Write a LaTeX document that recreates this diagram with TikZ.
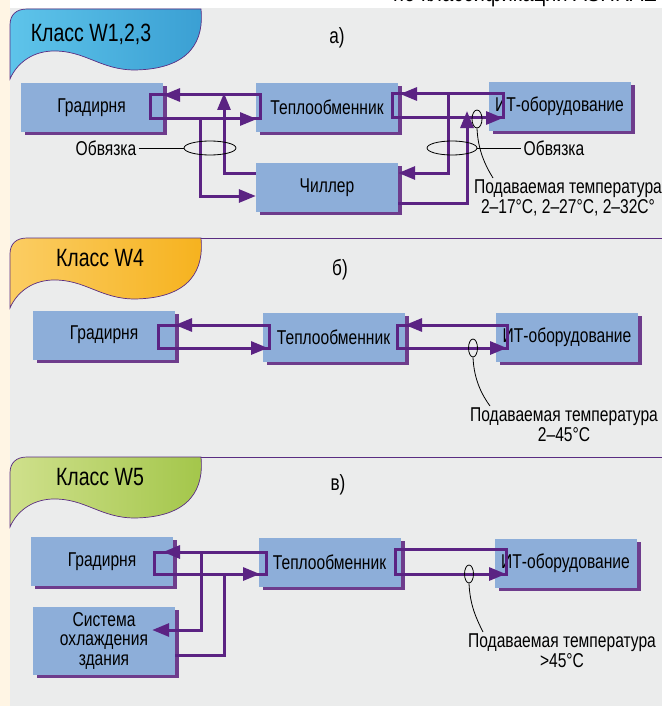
\documentclass[tikz,border=0pt]{standalone}
\usepackage{fontspec}
\setmainfont{Liberation Sans}[FakeStretch=0.78]
\usepackage{xcolor}
\definecolor{panelgray}{HTML}{EBECEC}
\definecolor{creamstrip}{HTML}{FFF5E4}
\definecolor{unitblue}{HTML}{8DAED9}
\definecolor{unitshadow}{HTML}{6E3C8C}
\definecolor{pipepurple}{HTML}{5B2383}
\definecolor{tabline}{HTML}{5A2D82}
\definecolor{tabblueL}{HTML}{5EC4EA}
\definecolor{tabblueR}{HTML}{3A9FD3}
\definecolor{taborangeL}{HTML}{FBCD63}
\definecolor{taborangeR}{HTML}{F6B21E}
\definecolor{tabgreenL}{HTML}{CFE08C}
\definecolor{tabgreenR}{HTML}{A3C64A}
\usetikzlibrary{shapes.geometric,arrows.meta,positioning,shadows}

\begin{document}
\begin{tikzpicture}[x=1pt, y=-1pt,
    unit/.style={fill=unitblue, align=center, font=\fontsize{20}{19.5}\selectfont, minimum width=142pt, minimum height=49pt, inner sep=0pt,
      drop shadow={shadow xshift=4pt, shadow yshift=-3pt, fill=unitshadow, opacity=1}},
    pipe/.style={draw=pipepurple, line width=3pt},
    flow/.style={pipe, -{Triangle[length=17pt, width=13pt]}},
    ring/.style={draw, ellipse, line width=0.8pt, inner sep=0pt},
    note/.style={align=center, inner sep=2pt, font=\fontsize{20}{20}\selectfont},
    lead/.style={line width=0.8pt},
    tab/.style={draw=tabline, line width=0.7pt},
    caption/.style={font=\fontsize{22}{22}\selectfont}
  ]
  \useasboundingbox (0,0) rectangle (662,706);
  % background
  \fill[creamstrip] (0,0) rectangle (10,706);
  \fill[white] (10,0) rectangle (662,8.5);
  \fill[panelgray] (10,8.5) rectangle (662,706);
  \node[anchor=base east, inner sep=0pt, font=\fontsize{26}{26}\selectfont] (hdr) at (657,2) {по классификации ASHRAE};

  % class tabs
  \foreach \ty/\lc/\rc/\tx/\ts/\txt in {9/tabblueL/tabblueR/91/25/{Класс W1,2,3},
      238/taborangeL/taborangeR/100/20/{Класс W4}, 457/tabgreenL/tabgreenR/100/20/{Класс W5}} {
    \shade[tab, left color=\lc, right color=\rc] (10,\ty+70) -- (10,\ty+16)
      .. controls (10,\ty+6) and (16,\ty) .. (27,\ty) -- (201,\ty)
      .. controls (204,\ty+30) and (192,\ty+60) .. (135,\ty+61)
      .. controls (100,\ty+61) and (85,\ty+41) .. (52,\ty+42)
      .. controls (30,\ty+43) and (16,\ty+56) .. (10,\ty+70) -- cycle;
    \node[font=\fontsize{25}{25}\selectfont] (tab\ty) at (\tx,\ty+\ts) {\txt};
  }
  \draw[tab] (201,238) -- (662,238);
  \draw[tab] (201,457) -- (662,457);

  % a) W1,2,3
  \node[caption] (capa) at (337,38) {а)};
  \node[unit] (grad1) at (91.5,107.5) {Градирня};
  \node[unit] (heat1) at (327,107.5) {Теплообменник};
  \node[unit] (it1) at (559.5,106.5) {ИТ-оборудование};
  \node[unit] (chil1) at (327,187.5) {Чиллер};

  \draw[pipe] (150,95) rectangle (260,119);
  \draw[flow] (200,95) -- (163,95);
  \draw[flow] (225,119) -- (257,119);
  \draw[flow] (200,119) |- ([yshift=-8.5pt]chil1.west);
  \draw[flow] ([yshift=14.5pt]chil1.west) -| (224,93);
  \draw[pipe] (392,94) rectangle (503,118);
  \draw[flow] (435,94) -- (400,94);
  \draw[flow] (470,118) -- (503,118);
  \draw[flow] (448,94) |- ([yshift=14.5pt]chil1.east);
  \draw[flow] ([yshift=-15.5pt]chil1.east) -| (467,111);

  \node[ring, minimum width=52pt, minimum height=14pt] (tie1) at (210,148) {};
  \node[ring, minimum width=50pt, minimum height=14pt] (tie2) at (452,148) {};
  \node[ring, minimum width=10pt, minimum height=18pt] (probe1) at (477,119) {};
  \node[note] (obv1) at (106,148) {Обвязка};
  \node[note] (obv2) at (554,148) {Обвязка};
  \draw[lead] (obv1) -- (tie1);
  \draw[lead] (tie2) -- (obv2);
  \node[note, anchor=north] (temp1) at (568,178) {Подаваемая температура\\2–17°C, 2–27°C, 2–32C°};
  \draw[lead] (probe1.south) .. controls (478,150) and (485,165) .. ([xshift=-75pt]temp1.north);

  % b) W4
  \node[caption] (capb) at (340,270) {б)};
  \node[unit] (grad2) at (104,335) {Градирня};
  \node[unit] (heat2) at (333.5,337.5) {Теплообменник};
  \node[unit] (it2) at (567,337.5) {ИТ-оборудование};

  \draw[pipe] (158,325) rectangle (269,348);
  \draw[flow] (215,325) -- (175,325);
  \draw[flow] (230,348) -- (268,348);
  \draw[pipe] (397,325) rectangle (507,348);
  \draw[flow] (440,325) -- (405,325);
  \draw[flow] (470,348) -- (507,348);

  \node[ring, minimum width=9pt, minimum height=18pt] (probe2) at (473,348) {};
  \node[note, anchor=north] (temp2) at (564,406) {Подаваемая температура\\2–45°C};
  \draw[lead] (probe2.south) .. controls (474,380) and (482,395) .. ([xshift=-74pt]temp2.north);

  % c) W5
  \node[caption] (capc) at (338,485) {в)};
  \node[unit] (grad3) at (102,561.5) {Градирня};
  \node[unit, minimum height=68pt] (bldg3) at (104,641) {Система\\охлаждения\\здания};
  \node[unit] (heat3) at (329.5,562.5) {Теплообменник};
  \node[unit] (it3) at (565.5,563) {ИТ-оборудование};

  \draw[pipe] (154,552) rectangle (266,574);
  \draw[flow] (200,552) -- (163,552);
  \draw[flow] (225,574) -- (260,574);
  \draw[flow] (201,552) |- ([xshift=-23pt, yshift=11pt]bldg3.east);
  \draw[pipe] (224,574) |- ([yshift=-14pt]bldg3.east);
  \draw[pipe] (395,549) rectangle (506,574);
  \draw[flow] (470,574) -- (506,574);

  \node[ring, minimum width=9pt, minimum height=18pt] (probe3) at (469,574) {};
  \node[note, anchor=north] (temp3) at (562,632) {Подаваемая температура\\>45°C};
  \draw[lead] (probe3.south) .. controls (470,605) and (476,618) .. ([xshift=-79pt]temp3.north);
\end{tikzpicture}
\end{document}
